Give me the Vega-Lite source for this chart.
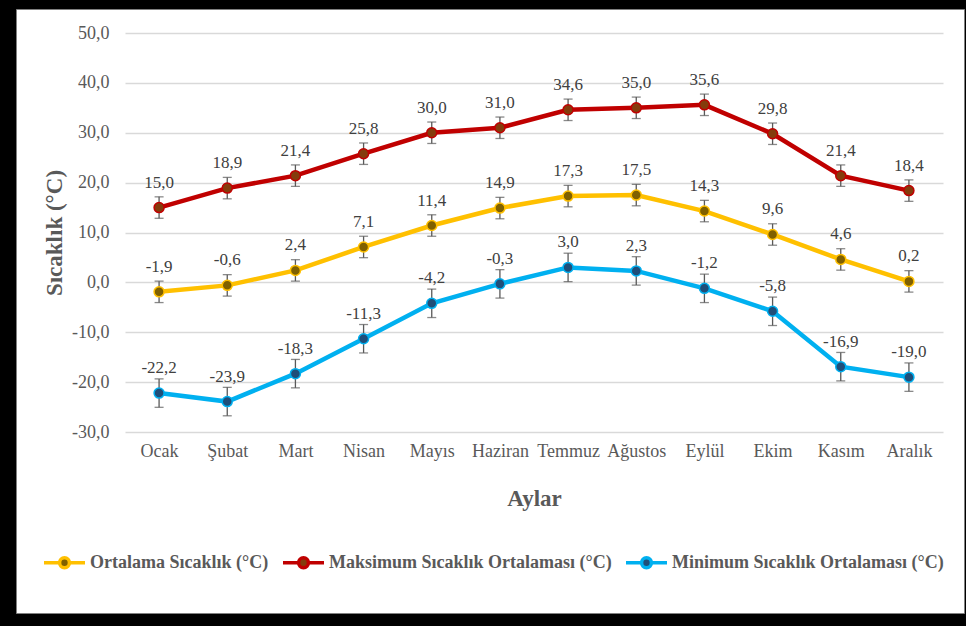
{
  "$schema": "https://vega.github.io/schema/vega-lite/v6.json",
  "width": 948,
  "height": 604,
  "autosize": {"type": "none"},
  "padding": {"left": 16, "top": 9, "right": 2, "bottom": 13},
  "background": "#000000",
  "config": {
    "locale": {"number": {"decimal": ",", "thousands": ".", "grouping": [3], "currency": ["", " TL"], "minus": "-"}},
    "view": {"fill": "#ffffff", "stroke": "#808080", "strokeWidth": 1},
    "font": "Liberation Serif"
  },
  "data": {
    "values": [
      {"month": "Ocak", "series": "Ortalama Sıcaklık (°C)", "value": -1.9, "err": 2.15},
      {"month": "Şubat", "series": "Ortalama Sıcaklık (°C)", "value": -0.6, "err": 2.15},
      {"month": "Mart", "series": "Ortalama Sıcaklık (°C)", "value": 2.4, "err": 2.15},
      {"month": "Nisan", "series": "Ortalama Sıcaklık (°C)", "value": 7.1, "err": 2.15},
      {"month": "Mayıs", "series": "Ortalama Sıcaklık (°C)", "value": 11.4, "err": 2.15},
      {"month": "Haziran", "series": "Ortalama Sıcaklık (°C)", "value": 14.9, "err": 2.15},
      {"month": "Temmuz", "series": "Ortalama Sıcaklık (°C)", "value": 17.3, "err": 2.15},
      {"month": "Ağustos", "series": "Ortalama Sıcaklık (°C)", "value": 17.5, "err": 2.15},
      {"month": "Eylül", "series": "Ortalama Sıcaklık (°C)", "value": 14.3, "err": 2.15},
      {"month": "Ekim", "series": "Ortalama Sıcaklık (°C)", "value": 9.6, "err": 2.15},
      {"month": "Kasım", "series": "Ortalama Sıcaklık (°C)", "value": 4.6, "err": 2.15},
      {"month": "Aralık", "series": "Ortalama Sıcaklık (°C)", "value": 0.2, "err": 2.15},
      {"month": "Ocak", "series": "Maksimum Sıcaklık Ortalaması (°C)", "value": 15.0, "err": 2.15},
      {"month": "Şubat", "series": "Maksimum Sıcaklık Ortalaması (°C)", "value": 18.9, "err": 2.15},
      {"month": "Mart", "series": "Maksimum Sıcaklık Ortalaması (°C)", "value": 21.4, "err": 2.15},
      {"month": "Nisan", "series": "Maksimum Sıcaklık Ortalaması (°C)", "value": 25.8, "err": 2.15},
      {"month": "Mayıs", "series": "Maksimum Sıcaklık Ortalaması (°C)", "value": 30.0, "err": 2.15},
      {"month": "Haziran", "series": "Maksimum Sıcaklık Ortalaması (°C)", "value": 31.0, "err": 2.15},
      {"month": "Temmuz", "series": "Maksimum Sıcaklık Ortalaması (°C)", "value": 34.6, "err": 2.15},
      {"month": "Ağustos", "series": "Maksimum Sıcaklık Ortalaması (°C)", "value": 35.0, "err": 2.15},
      {"month": "Eylül", "series": "Maksimum Sıcaklık Ortalaması (°C)", "value": 35.6, "err": 2.15},
      {"month": "Ekim", "series": "Maksimum Sıcaklık Ortalaması (°C)", "value": 29.8, "err": 2.15},
      {"month": "Kasım", "series": "Maksimum Sıcaklık Ortalaması (°C)", "value": 21.4, "err": 2.15},
      {"month": "Aralık", "series": "Maksimum Sıcaklık Ortalaması (°C)", "value": 18.4, "err": 2.15},
      {"month": "Ocak", "series": "Minimum Sıcaklık Ortalaması (°C)", "value": -22.2, "err": 2.85},
      {"month": "Şubat", "series": "Minimum Sıcaklık Ortalaması (°C)", "value": -23.9, "err": 2.85},
      {"month": "Mart", "series": "Minimum Sıcaklık Ortalaması (°C)", "value": -18.3, "err": 2.85},
      {"month": "Nisan", "series": "Minimum Sıcaklık Ortalaması (°C)", "value": -11.3, "err": 2.85},
      {"month": "Mayıs", "series": "Minimum Sıcaklık Ortalaması (°C)", "value": -4.2, "err": 2.85},
      {"month": "Haziran", "series": "Minimum Sıcaklık Ortalaması (°C)", "value": -0.3, "err": 2.85},
      {"month": "Temmuz", "series": "Minimum Sıcaklık Ortalaması (°C)", "value": 3.0, "err": 2.85},
      {"month": "Ağustos", "series": "Minimum Sıcaklık Ortalaması (°C)", "value": 2.3, "err": 2.85},
      {"month": "Eylül", "series": "Minimum Sıcaklık Ortalaması (°C)", "value": -1.2, "err": 2.85},
      {"month": "Ekim", "series": "Minimum Sıcaklık Ortalaması (°C)", "value": -5.8, "err": 2.85},
      {"month": "Kasım", "series": "Minimum Sıcaklık Ortalaması (°C)", "value": -16.9, "err": 2.85},
      {"month": "Aralık", "series": "Minimum Sıcaklık Ortalaması (°C)", "value": -19.0, "err": 2.85}
    ]
  },
  "encoding": {
    "x": {
      "field": "month", "type": "ordinal",
      "sort": ["Ocak", "Şubat", "Mart", "Nisan", "Mayıs", "Haziran", "Temmuz", "Ağustos", "Eylül", "Ekim", "Kasım", "Aralık"],
      "scale": {"type": "point", "range": [109, 927], "padding": 0.5},
      "axis": {
        "domain": false, "ticks": false, "grid": false, "labelPadding": 10, "offset": -181, "labelAngle": 0,
        "labelFont": "Liberation Serif", "labelFontSize": 18, "labelColor": "#595959",
        "title": "Aylar", "titleFont": "Liberation Serif", "titleFontSize": 23, "titleFontWeight": "bold", "titleColor": "#595959", "titlePadding": 27
      }
    },
    "y": {
      "field": "value", "type": "quantitative",
      "scale": {"domain": [-30, 50], "range": [423, 24], "nice": false, "zero": false},
      "axis": {
        "values": [-30, -20, -10, 0, 10, 20, 30, 40, 50], "format": ".1f",
        "grid": true, "gridColor": "#d9d9d9", "gridWidth": 1.3,
        "domain": false, "ticks": false, "labelPadding": 2, "offset": -95,
        "labelFont": "Liberation Serif", "labelFontSize": 18, "labelColor": "#595959",
        "title": "Sıcaklık (°C)", "titleFont": "Liberation Serif", "titleFontSize": 23, "titleFontWeight": "bold", "titleColor": "#595959", "titlePadding": 5
      }
    }
  },
  "layer": [
    {
      "mark": {"type": "line", "strokeWidth": 4.5},
      "encoding": {
        "stroke": {
          "field": "series", "type": "nominal",
          "scale": {"domain": ["Ortalama Sıcaklık (°C)", "Maksimum Sıcaklık Ortalaması (°C)", "Minimum Sıcaklık Ortalaması (°C)"], "range": ["#FFC000", "#C00000", "#00B0F0"]},
          "legend": {
            "orient": "none", "legendX": 26, "legendY": 531, "direction": "horizontal", "title": null,
            "symbolType": "M-1,0L-0.24,0M0.24,0L1,0M0.24,0A0.24,0.24,0,1,1,-0.24,0A0.24,0.24,0,1,1,0.24,0",
            "symbolSize": 1681, "symbolStrokeWidth": 3.5,
            "labelFont": "Liberation Serif", "labelFontSize": 18, "labelFontWeight": "bold", "labelColor": "#595959",
            "labelLimit": 400, "columnPadding": 7, "labelOffset": 3
          }
        }
      }
    },
    {
      "mark": {"type": "errorbar", "ticks": {"size": 9, "thickness": 1.3, "color": "#595959"}, "color": "#595959", "thickness": 1.3},
      "encoding": {
        "yError": {"field": "err"}
      }
    },
    {
      "mark": {"type": "point", "filled": true, "shape": "circle", "size": 100, "strokeWidth": 1.5, "opacity": 1},
      "encoding": {
        "fill": {
          "field": "series", "type": "nominal",
          "scale": {"domain": ["Ortalama Sıcaklık (°C)", "Maksimum Sıcaklık Ortalaması (°C)", "Minimum Sıcaklık Ortalaması (°C)"], "range": ["#7F6000", "#843C0C", "#1F4E79"]},
          "legend": {
            "orient": "none", "legendX": 26, "legendY": 531, "direction": "horizontal", "title": null,
            "symbolType": "M-1,0L-0.24,0M0.24,0L1,0M0.24,0A0.24,0.24,0,1,1,-0.24,0A0.24,0.24,0,1,1,0.24,0",
            "symbolSize": 1681, "symbolStrokeWidth": 3.5,
            "labelFont": "Liberation Serif", "labelFontSize": 18, "labelFontWeight": "bold", "labelColor": "#595959",
            "labelLimit": 400, "columnPadding": 7, "labelOffset": 3
          }
        },
        "stroke": {"field": "series", "type": "nominal"}
      }
    },
    {
      "mark": {"type": "text", "dy": -25, "fontSize": 17, "color": "#404040", "font": "Liberation Serif"},
      "encoding": {
        "text": {"field": "value", "type": "quantitative", "format": ".1f"}
      }
    }
  ]
}
